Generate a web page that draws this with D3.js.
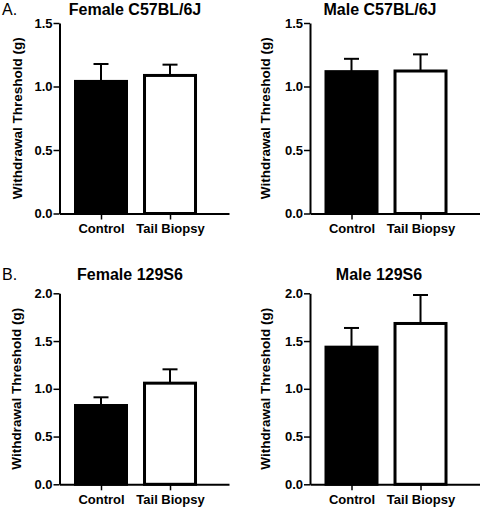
<!DOCTYPE html>
<html>
<head>
<meta charset="utf-8">
<script src="https://cdn.jsdelivr.net/npm/d3@7"></script>
<style>
  html, body { margin: 0; padding: 0; background: #fff; }
  svg { display: block; }
  text { font-family: "Liberation Sans", Arial, sans-serif; fill: #000; }
</style>
</head>
<body>
<svg id="chart" width="483" height="509"></svg>
<script>
// ---- data ----
const categories = ["Control", "Tail Biopsy"];
const panelTitles = ["Female C57BL/6J", "Male C57BL/6J", "Female 129S6", "Male 129S6"];
const panelLetters = ["A.", "", "B.", ""];
const controlMeans = [1.04, 1.117, 0.825, 1.436];
const controlSEM   = [0.137, 0.101, 0.086, 0.201];
const tailMeans    = [1.087, 1.122, 1.059, 1.684];
const tailSEM      = [0.085, 0.131, 0.145, 0.298];
const yMaxes = [1.5, 1.5, 2.0, 2.0];
const yTicksTop = [0, 0.5, 1.0, 1.5];
const yTicksBottom = [0, 0.5, 1.0, 1.5, 2.0];
const yLabel = "Withdrawal Threshold (g)";

// ---- layout ----
const panelX = [59.5, 310, 59.5, 310];
const panelY0 = [213.5, 213.5, 484.3, 484.3];
const panelYTop = [23, 23, 293.3, 293.3];
const axisLen = 169.5;
const titleX = [135, 380, 130, 379];
const titleY = [15, 15, 279.5, 279.5];
const yLabelX = [22, 270, 21, 270];
const barW = 51;

const svg = d3.select("#chart");
const fmt = d3.format(".1f");

for (let i = 0; i < 4; i++) {
  const g = svg.append("g").attr("transform", `translate(${panelX[i]},0)`);
  const y = d3.scaleLinear().domain([0, yMaxes[i]]).range([panelY0[i], panelYTop[i]]);
  const x = d3.scalePoint().domain(categories).range([0, axisLen]).padding(0.728).align(0.413);

  const data = [
    { cat: categories[0], mean: controlMeans[i], sem: controlSEM[i], fill: "#000" },
    { cat: categories[1], mean: tailMeans[i], sem: tailSEM[i], fill: "#fff" }
  ];

  // error bars (upper only)
  data.forEach(d => {
    g.append("line")
      .attr("x1", x(d.cat)).attr("x2", x(d.cat))
      .attr("y1", y(d.mean)).attr("y2", y(d.mean + d.sem))
      .attr("stroke", "#000").attr("stroke-width", 2);
    g.append("line")
      .attr("x1", x(d.cat) - 7.5).attr("x2", x(d.cat) + 7.5)
      .attr("y1", y(d.mean + d.sem)).attr("y2", y(d.mean + d.sem))
      .attr("stroke", "#000").attr("stroke-width", 2);
  });

  // bars
  g.selectAll("rect.bar").data(data).enter().append("rect")
    .attr("class", "bar")
    .attr("x", d => x(d.cat) - barW / 2)
    .attr("width", barW)
    .attr("y", d => y(d.mean))
    .attr("height", d => y(0) - y(d.mean))
    .attr("fill", d => d.fill)
    .attr("stroke", "#000")
    .attr("stroke-width", 3);

  // y axis
  const yAxis = d3.axisLeft(y)
    .tickValues(i < 2 ? yTicksTop : yTicksBottom)
    .tickFormat(fmt)
    .tickSize(6).tickSizeOuter(0).tickPadding(1);
  const ya = g.append("g").call(yAxis);
  ya.select(".domain").attr("stroke-width", 2);
  ya.selectAll(".tick line").attr("stroke-width", 1.5);
  ya.selectAll("text").attr("font-size", 13).attr("font-weight", "bold")
    .attr("font-family", "Liberation Sans, Arial, sans-serif");

  // x axis
  const xAxis = d3.axisBottom(x).tickSize(6).tickSizeOuter(0).tickPadding(4);
  const xa = g.append("g").attr("transform", `translate(0,${panelY0[i]})`).call(xAxis);
  xa.select(".domain").attr("stroke-width", 2);
  xa.selectAll(".tick line").attr("stroke-width", 1.5);
  xa.selectAll("text").attr("font-size", 13).attr("font-weight", "bold")
    .attr("font-family", "Liberation Sans, Arial, sans-serif");

  // y label
  svg.append("text")
    .attr("transform", `translate(${yLabelX[i]},${(panelY0[i] + panelYTop[i]) / 2}) rotate(-90)`)
    .attr("text-anchor", "middle")
    .attr("font-size", 13.5).attr("font-weight", "bold")
    .text(yLabel);

  // title
  svg.append("text")
    .attr("x", titleX[i]).attr("y", titleY[i])
    .attr("text-anchor", "middle")
    .attr("font-size", 16).attr("font-weight", "bold")
    .text(panelTitles[i]);

  if (panelLetters[i]) {
    svg.append("text")
      .attr("x", 2).attr("y", titleY[i])
      .attr("font-size", 16)
      .text(panelLetters[i]);
  }
}
</script>
</body>
</html>
